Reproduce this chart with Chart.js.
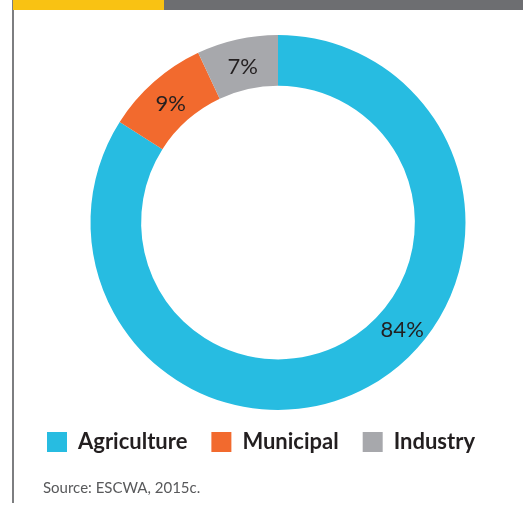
<!DOCTYPE html>
<html>
<head>
<meta charset="utf-8">
<script src="https://cdn.jsdelivr.net/npm/chart.js@4.4.1/dist/chart.umd.min.js"></script>
<style>
  html, body { margin: 0; padding: 0; background: #fff; }
  #wrap { position: relative; width: 523px; height: 505px; overflow: hidden; }
  #chart { position: absolute; left: 0; top: 0; }
  .bar { position: absolute; top: 0; height: 10px; }
  #bar-accent { left: 13px; width: 151px; background: #f9c213; }
  #bar-rest { left: 164px; width: 359px; background: #6d6e71; }
  #rule { position: absolute; left: 12px; top: 0; width: 2px; height: 503px; background: #7d7e80; }
</style>
</head>
<body>
<div id="wrap">
  <canvas id="chart" width="523" height="505"></canvas>
  <div id="rule"></div>
  <div class="bar" id="bar-accent"></div>
  <div class="bar" id="bar-rest"></div>
</div>
<script>
const categories = ['Agriculture', 'Municipal', 'Industry'];
const shares = [84, 9, 7];
const sliceColors = ['#27bce1', '#f26a2e', '#a7a8ac'];
const sourceNote = 'Source: ESCWA, 2015c.';

// where along each arc its label sits (0 = start, 1 = end)
const LABEL_ALONG = [0.43, 0.5, 0.5];
const LEGEND_SHIFT = { x: -17, y: -3 };
const NOTE_SHIFT_X = 10;

const sliceLabels = {
  id: 'sliceLabels',
  afterDatasetsDraw(chart) {
    const { ctx } = chart;
    const meta = chart.getDatasetMeta(0);
    ctx.save();
    ctx.font = '22px Lato, "Open Sans", sans-serif';
    ctx.fillStyle = '#231f20';
    ctx.textAlign = 'center';
    ctx.textBaseline = 'middle';
    meta.data.forEach((arc, i) => {
      const { x, y, startAngle, endAngle, innerRadius, outerRadius } = arc.getProps(
        ['x', 'y', 'startAngle', 'endAngle', 'innerRadius', 'outerRadius'], true);
      const angle = startAngle + (endAngle - startAngle) * LABEL_ALONG[i];
      const r = (innerRadius + outerRadius) / 2;
      ctx.fillText(`${shares[i]}%`, x + r * Math.cos(angle), y + r * Math.sin(angle) + 3);
    });
    ctx.restore();
  },
};

// legend row sits a little left of the donut's centre line, the note a little right of the edge
const blockNudge = {
  id: 'blockNudge',
  afterLayout(chart) {
    const { legend, titleBlock } = chart;
    if (legend) {
      legend.left += LEGEND_SHIFT.x;
      legend.right += LEGEND_SHIFT.x;
      legend.top += LEGEND_SHIFT.y;
      legend.bottom += LEGEND_SHIFT.y;
    }
    if (titleBlock) {
      titleBlock.left += NOTE_SHIFT_X;
      titleBlock.right += NOTE_SHIFT_X;
    }
  },
};

new Chart(document.getElementById('chart'), {
  type: 'doughnut',
  data: {
    labels: categories,
    datasets: [{
      data: shares,
      backgroundColor: sliceColors,
      borderWidth: 0,
      hoverOffset: 0,
    }],
  },
  options: {
    responsive: false,
    animation: false,
    cutout: '73%',
    layout: {
      padding: { top: 35, left: 33, right: 0, bottom: 8 },
    },
    plugins: {
      legend: {
        position: 'bottom',
        labels: {
          boxWidth: 20,
          boxHeight: 20,
          padding: 24,
          color: '#231f20',
          font: { family: 'Lato, "Open Sans", sans-serif', size: 22, weight: 'bold' },
        },
      },
      title: {
        display: true,
        position: 'bottom',
        align: 'start',
        text: sourceNote,
        color: '#58595b',
        font: { family: 'Lato, "Open Sans", sans-serif', size: 15, weight: 'normal' },
        padding: { top: 13, bottom: 0 },
      },
      tooltip: { enabled: false },
    },
  },
  plugins: [sliceLabels, blockNudge],
});
</script>
</body>
</html>
